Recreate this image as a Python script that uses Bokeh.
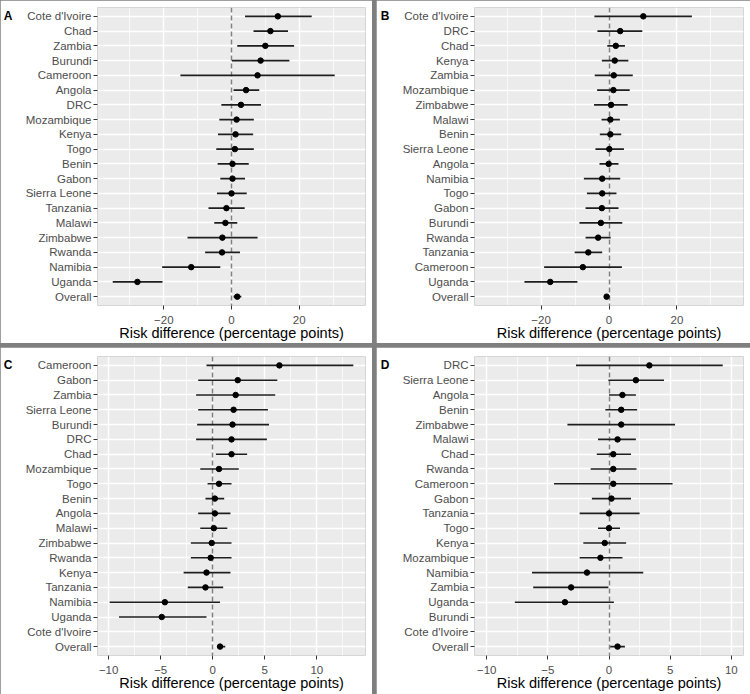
from bokeh.plotting import figure
from bokeh.models import Range1d, FixedTicker, GridBox, ColumnDataSource, LinearAxis
from bokeh.embed import file_html
from bokeh.resources import INLINE

nan = float("nan")

# ---------------- data ----------------
A_names = ["Cote d'Ivoire", "Chad", "Zambia", "Burundi", "Cameroon", "Angola", "DRC", "Mozambique",
           "Kenya", "Togo", "Benin", "Gabon", "Sierra Leone", "Tanzania", "Malawi", "Zimbabwe",
           "Rwanda", "Namibia", "Uganda", "Overall"]
A_est = [13.7, 11.5, 10.0, 8.6, 7.7, 4.3, 2.8, 1.5, 1.2, 1.0, 0.3, 0.3, 0.0, -1.5, -1.8, -2.7, -2.8, -11.9, -27.8, 1.7]
A_lo = [4.0, 6.5, 1.7, 0.1, -15.1, 0.6, -3.0, -3.6, -4.0, -4.5, -4.1, -3.3, -4.3, -6.8, -5.1, -13.0, -7.8, -20.5, -35.1, 0.6]
A_hi = [23.7, 16.7, 18.5, 17.1, 30.5, 8.2, 8.7, 6.6, 6.4, 6.6, 5.1, 4.0, 4.5, 3.9, 1.7, 7.7, 2.5, -3.3, -20.4, 2.9]

B_names = ["Cote d'Ivoire", "DRC", "Chad", "Kenya", "Zambia", "Mozambique", "Zimbabwe", "Malawi",
           "Benin", "Sierra Leone", "Angola", "Namibia", "Togo", "Gabon", "Burundi", "Rwanda",
           "Tanzania", "Cameroon", "Uganda", "Overall"]
B_est = [10.1, 3.3, 2.0, 1.7, 1.4, 1.3, 0.6, 0.4, 0.4, 0.1, -0.1, -2.0, -2.0, -2.1, -2.4, -3.2, -6.1, -7.7, -17.3, -0.7]
B_lo = [-4.3, -3.4, -0.5, -2.1, -4.2, -3.5, -4.4, -2.2, -2.7, -4.0, -2.8, -7.4, -6.5, -6.9, -8.7, -6.9, -10.1, -19.1, -24.9, -1.3]
B_hi = [24.4, 9.8, 4.7, 5.7, 7.0, 6.1, 5.5, 3.2, 3.6, 4.4, 2.8, 3.3, 2.2, 2.8, 3.9, 0.5, -2.0, 3.8, -9.3, 0.0]

C_names = ["Cameroon", "Gabon", "Zambia", "Sierra Leone", "Burundi", "DRC", "Chad", "Mozambique",
           "Togo", "Benin", "Angola", "Malawi", "Zimbabwe", "Rwanda", "Kenya", "Tanzania",
           "Namibia", "Uganda", "Cote d'Ivoire", "Overall"]
C_est = [6.4, 2.4, 2.2, 2.0, 1.9, 1.8, 1.8, 0.6, 0.6, 0.2, 0.2, 0.1, -0.1, -0.2, -0.6, -0.7, -4.6, -4.9, nan, 0.7]
C_lo = [-0.6, -1.4, -1.6, -1.4, -1.5, -1.6, 0.3, -1.2, -0.5, -0.7, -1.4, -1.2, -2.1, -2.1, -2.8, -2.4, -9.9, -9.0, nan, 0.45]
C_hi = [13.5, 6.2, 6.0, 5.3, 5.4, 5.2, 3.3, 2.5, 1.8, 1.1, 1.7, 1.4, 1.8, 1.8, 1.7, 1.0, 0.7, -0.6, nan, 1.2]

D_names = ["DRC", "Sierra Leone", "Angola", "Benin", "Zimbabwe", "Malawi", "Chad", "Rwanda",
           "Cameroon", "Gabon", "Tanzania", "Togo", "Kenya", "Mozambique", "Namibia", "Zambia",
           "Uganda", "Burundi", "Cote d'Ivoire", "Overall"]
D_est = [3.3, 2.2, 1.1, 1.0, 1.0, 0.7, 0.35, 0.35, 0.35, 0.2, 0.0, 0.0, -0.35, -0.7, -1.8, -3.1, -3.6, nan, nan, 0.7]
D_lo = [-2.7, -0.05, 0.0, -0.3, -3.4, -0.9, -1.0, -1.5, -4.5, -1.4, -2.4, -0.9, -2.1, -2.4, -6.3, -6.2, -7.7, nan, nan, 0.1]
D_hi = [9.3, 4.5, 2.2, 2.3, 5.4, 2.2, 1.8, 2.25, 5.2, 1.8, 2.5, 0.9, 1.4, 1.1, 2.8, -0.05, 0.4, nan, nan, 1.3]

AB_ticks = [-20, 0, 20]
AB_minor = [-30, -10, 10, 30]
CD_ticks = [-10, -5, 0, 5, 10]
CD_minor = [-12.5, -7.5, -2.5, 2.5, 7.5, 12.5]

X_TITLE = "Risk difference (percentage points)"
REF_LINE = 0
FONT = "Liberation Sans"
PAD = 0.6  # discrete-axis expansion beyond the outer rows (ggplot default)


def make_panel(letter, names, est, lo, hi, xr, ticks, minor, width, height, bl, br, bt, bb):
    n = len(names)
    rows = [n - i for i in range(n)]          # first category at the top
    p = figure(width=width, height=height, output_backend="svg", toolbar_location=None,
               y_range=Range1d(1 - PAD, n + PAD), x_range=Range1d(xr[0], xr[1]),
               min_border_left=bl, min_border_right=br, min_border_top=bt, min_border_bottom=bb)
    p.background_fill_color = "#EBEBEB"
    p.border_fill_color = "white"
    p.outline_line_color = None

    src = ColumnDataSource(dict(row=rows, name=names, est=est, lo=lo, hi=hi))
    p.vspan(x=[REF_LINE], line_color="#808080", line_width=1.5, line_dash="5 3")
    p.segment(x0="lo", y0="row", x1="hi", y1="row", source=src, line_color="#1e1e1e", line_width=1.6)
    p.scatter(x="est", y="row", source=src, size=5.5, fill_color="black", line_color="black")

    p.xaxis.ticker = FixedTicker(ticks=ticks, minor_ticks=minor)
    p.yaxis.ticker = FixedTicker(ticks=rows, minor_ticks=[])
    p.yaxis.major_label_overrides = {r: nm for r, nm in zip(rows, names)}
    for ax in (p.xaxis[0], p.yaxis[0]):
        ax.axis_line_color = None
        ax.major_tick_in = 0
        ax.major_tick_out = 4
        ax.major_tick_line_color = "#333333"
        ax.major_tick_line_width = 1
        ax.minor_tick_line_color = None
        ax.major_label_text_font = FONT
        ax.major_label_text_font_size = "11.5px"
        ax.major_label_text_color = "#4D4D4D"
        ax.major_label_standoff = 2
    p.xaxis.major_label_standoff = 6
    p.xaxis.axis_label = X_TITLE
    p.xaxis.axis_label_text_font = FONT
    p.xaxis.axis_label_text_font_size = "14.5px"
    p.xaxis.axis_label_text_font_style = "normal"
    p.xaxis.axis_label_text_color = "black"
    p.xaxis.axis_label_standoff = -2

    p.xgrid.grid_line_color = "white"
    p.xgrid.grid_line_width = 1.4
    p.xgrid.minor_grid_line_color = "white"
    p.xgrid.minor_grid_line_width = 0.7
    p.ygrid.grid_line_color = "white"
    p.ygrid.grid_line_width = 1.4

    # panel letter: an outer left axis with a single tick on the top row
    lax = LinearAxis(ticker=FixedTicker(ticks=[rows[0]], minor_ticks=[]),
                     major_label_overrides={rows[0]: letter})
    lax.axis_line_color = None
    lax.major_tick_line_color = None
    lax.minor_tick_line_color = None
    lax.major_label_text_font = FONT
    lax.major_label_text_font_size = "12px"
    lax.major_label_text_font_style = "bold"
    lax.major_label_text_color = "black"
    lax.major_label_standoff = 4
    p.add_layout(lax, "left")
    return p


pA = make_panel("A", A_names, A_est, A_lo, A_hi, (-39.6, 39.6), AB_ticks, AB_minor, 372, 343, 96, 7, 7, 37)
pB = make_panel("B", B_names, B_est, B_lo, B_hi, (-39.6, 39.6), AB_ticks, AB_minor, 374, 343, 98, 7, 7, 37)
pC = make_panel("C", C_names, C_est, C_lo, C_hi, (-11.07, 14.67), CD_ticks, CD_minor, 372, 347, 96, 7, 9, 39)
pD = make_panel("D", D_names, D_est, D_lo, D_hi, (-11.0, 11.0), CD_ticks, CD_minor, 374, 347, 98, 7, 9, 39)

grid = GridBox(children=[(pA, 0, 0), (pB, 0, 1), (pC, 1, 0), (pD, 1, 1)], spacing=4,
               styles={"background-color": "#7F7F7F"})

open("out.html", "w").write(file_html(grid, INLINE))
